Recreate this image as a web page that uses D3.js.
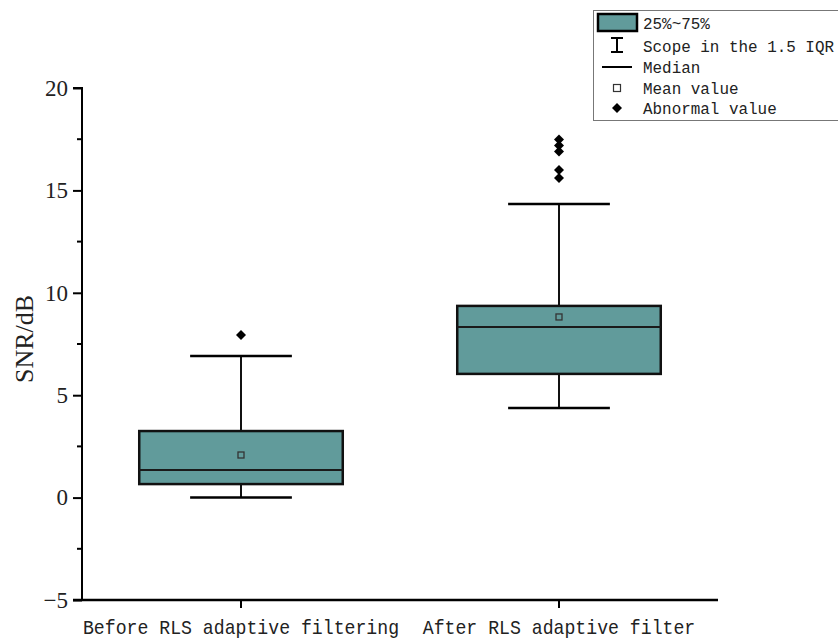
<!DOCTYPE html>
<html>
<head>
<meta charset="utf-8">
<script src="https://cdn.jsdelivr.net/npm/d3@7"></script>
<style>
  html, body { margin: 0; padding: 0; background: #fff; }
  svg { display: block; }
</style>
</head>
<body>
<svg id="chart" width="838" height="642"></svg>
<script>
// Box-plot summary values (SNR in dB)
const categories = ["Before RLS adaptive filtering", "After RLS adaptive filter"];
const q1Values = [0.66, 6.04];
const medianValues = [1.35, 8.33];
const q3Values = [3.25, 9.36];
const meanValues = [2.08, 8.82];
const whiskerLow = [0.0, 4.38];
const whiskerHigh = [6.91, 14.34];
const outlierValues = [[7.94], [15.6, 16.0, 16.9, 17.19, 17.49]];
const yTicks = [-5, 0, 5, 10, 15, 20];
const legendLabels = ["25%~75%", "Scope in the 1.5 IQR", "Median", "Mean value", "Abnormal value"];

const boxFill = "#619b9b";
const monoFont = "Liberation Mono, DejaVu Sans Mono, monospace";
const serifFont = "Liberation Serif, Times New Roman, serif";
const svg = d3.select("#chart");
const plotLeft = 82, plotRight = 718, plotTop = 88, plotBottom = 600;

const x = d3.scaleBand().domain(categories).range([plotLeft, plotRight]).padding(0);
const y = d3.scaleLinear().domain([-5, 20]).range([plotBottom, plotTop]);
const boxW = x.bandwidth() * 0.64;
const capW = boxW * 0.5;

// axes
const yAxis = d3.axisLeft(y).tickValues(yTicks).tickSize(9).tickPadding(5)
  .tickFormat(d => d < 0 ? "\u2212" + Math.abs(d) : d);
const gy = svg.append("g").attr("transform", `translate(${plotLeft},0)`).call(yAxis);
gy.select(".domain").attr("stroke-width", 2).attr("d", `M-9,${plotBottom}H0V${plotTop}H-9`);
gy.selectAll(".tick line").attr("stroke-width", 2);
gy.selectAll(".tick text").attr("font-family", serifFont)
  .attr("font-size", 23).attr("fill", "#222");
// minor ticks
const minor = d3.range(-2.5, 20, 5);
gy.selectAll(".minor").data(minor).join("line").attr("class", "minor")
  .attr("x1", -5).attr("x2", 0).attr("y1", d => y(d)).attr("y2", d => y(d))
  .attr("stroke", "#000").attr("stroke-width", 2);

const xAxis = d3.axisBottom(x).tickSize(8).tickPadding(8);
const gx = svg.append("g").attr("transform", `translate(0,${plotBottom})`).call(xAxis);
gx.select(".domain").attr("stroke-width", 2.5).attr("d", `M${plotLeft - 9},0H${plotRight}`);
gx.selectAll(".tick line").attr("stroke-width", 2);
gx.selectAll(".tick text").attr("font-family", monoFont)
  .attr("font-size", 21).attr("fill", "#222").attr("dy", "0.85em")
  .attr("textLength", d => d.length * 10.9).attr("lengthAdjust", "spacingAndGlyphs");

// y-axis title
svg.append("text")
  .attr("transform", `translate(33,${(plotTop + plotBottom) / 2 - 5}) rotate(-90)`)
  .attr("text-anchor", "middle")
  .attr("font-family", serifFont)
  .attr("font-size", 26).attr("fill", "#222")
  .text("SNR/dB");

// boxes
const g = svg.append("g");
categories.forEach((c, i) => {
  const cx = x(c) + x.bandwidth() / 2;
  // whiskers
  g.append("line").attr("x1", cx).attr("x2", cx).attr("y1", y(q3Values[i])).attr("y2", y(whiskerHigh[i]))
    .attr("stroke", "#111").attr("stroke-width", 2);
  g.append("line").attr("x1", cx).attr("x2", cx).attr("y1", y(q1Values[i])).attr("y2", y(whiskerLow[i]))
    .attr("stroke", "#111").attr("stroke-width", 2);
  [whiskerHigh[i], whiskerLow[i]].forEach(v => {
    g.append("line").attr("x1", cx - capW / 2).attr("x2", cx + capW / 2)
      .attr("y1", y(v)).attr("y2", y(v)).attr("stroke", "#000").attr("stroke-width", 2.5);
  });
  // box
  g.append("rect").attr("x", cx - boxW / 2).attr("y", y(q3Values[i]))
    .attr("width", boxW).attr("height", y(q1Values[i]) - y(q3Values[i]))
    .attr("fill", boxFill).attr("stroke", "#111").attr("stroke-width", 2.5);
  // median
  g.append("line").attr("x1", cx - boxW / 2).attr("x2", cx + boxW / 2)
    .attr("y1", y(medianValues[i])).attr("y2", y(medianValues[i]))
    .attr("stroke", "#1a1a1a").attr("stroke-width", 2);
  // mean
  g.append("rect").attr("x", cx - 3).attr("y", y(meanValues[i]) - 3).attr("width", 6).attr("height", 6)
    .attr("fill", "none").attr("stroke", "#333").attr("stroke-width", 1.3);
  // outliers
  outlierValues[i].forEach(v => {
    g.append("path").attr("transform", `translate(${cx},${y(v)})`)
      .attr("d", "M0,-5L5,0L0,5L-5,0Z").attr("fill", "#000");
  });
});

// legend
const lg = svg.append("g");
lg.append("rect").attr("x", 593.5).attr("y", 10.5).attr("width", 250).attr("height", 110)
  .attr("fill", "#fff").attr("stroke", "#777").attr("stroke-width", 1);
const rowY = [23, 46, 67, 88, 108];
const sx = 617;
lg.append("rect").attr("x", 598).attr("y", 14).attr("width", 39).attr("height", 17)
  .attr("fill", boxFill).attr("stroke", "#000").attr("stroke-width", 2.5);
lg.append("path").attr("d", `M${sx},${rowY[1] - 8}V${rowY[1] + 6}M${sx - 6},${rowY[1] - 8}H${sx + 6}M${sx - 6},${rowY[1] + 6}H${sx + 6}`)
  .attr("stroke", "#000").attr("stroke-width", 2).attr("fill", "none");
lg.append("line").attr("x1", sx - 15).attr("x2", sx + 15).attr("y1", rowY[2]).attr("y2", rowY[2])
  .attr("stroke", "#000").attr("stroke-width", 2);
lg.append("rect").attr("x", sx - 3.5).attr("y", rowY[3] - 3.5).attr("width", 7).attr("height", 7)
  .attr("fill", "none").attr("stroke", "#333").attr("stroke-width", 1.2);
lg.append("path").attr("transform", `translate(${sx},${rowY[4]})`)
  .attr("d", "M0,-5L5,0L0,5L-5,0Z").attr("fill", "#000");
lg.selectAll("text.lab").data(legendLabels).join("text").attr("class", "lab")
  .attr("x", 643).attr("y", (d, i) => rowY[i]).attr("dy", "0.35em")
  .attr("font-family", monoFont).attr("font-size", 16).attr("fill", "#222")
  .attr("textLength", d => d.length * 9.55).attr("lengthAdjust", "spacingAndGlyphs")
  .text(d => d);
</script>
</body>
</html>
